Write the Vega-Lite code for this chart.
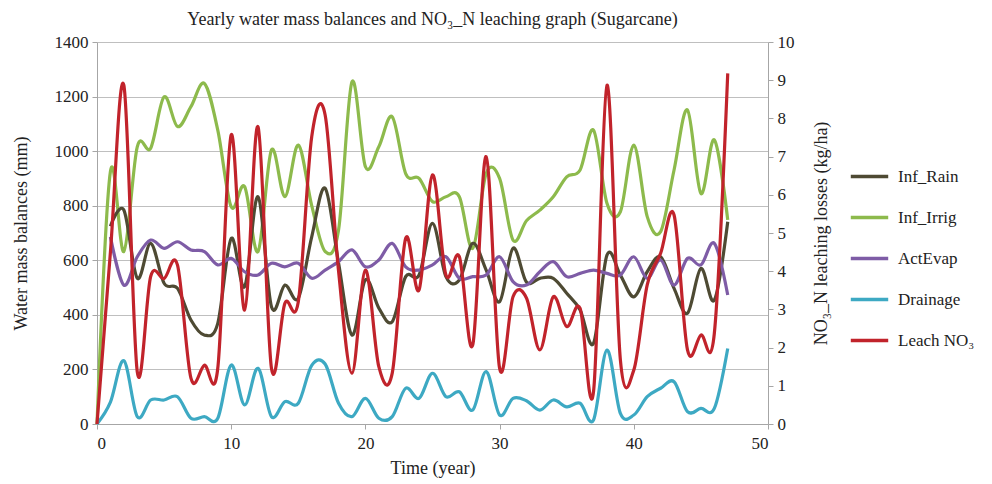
{
  "$schema": "https://vega.github.io/schema/vega-lite/v6.json",
  "width": 671,
  "height": 382,
  "autosize": {"type": "none"},
  "padding": {"left": 97, "top": 42, "right": 224, "bottom": 60},
  "background": "white",
  "config": {
    "font": "Liberation Serif",
    "view": {"stroke": null},
    "axis": {"labelFont": "Liberation Serif", "titleFont": "Liberation Serif", "labelFontSize": 17, "titleFontSize": 18, "titleFontWeight": "normal", "labelColor": "#222", "titleColor": "#222", "domainColor": "#A6A6A6", "tickColor": "#A6A6A6", "gridColor": "#BFBFBF", "tickSize": 5}
  },
  "title": {"text": "Yearly water mass balances and NO₃_N leaching graph (Sugarcane)", "font": "Liberation Serif", "fontSize": 18, "fontWeight": "normal", "color": "#222", "anchor": "middle", "offset": 4},
  "data": {"values": [
    {"year": 0, "Inf_Rain": null, "Inf_Irrig": 0, "ActEvap": null, "Drainage": 0, "Leach": 0},
    {"year": 1, "Inf_Rain": 725, "Inf_Irrig": 925, "ActEvap": 686, "Drainage": 80, "Leach": 4.5},
    {"year": 2, "Inf_Rain": 784, "Inf_Irrig": 632, "ActEvap": 509, "Drainage": 232, "Leach": 8.87},
    {"year": 3, "Inf_Rain": 534, "Inf_Irrig": 1016, "ActEvap": 613, "Drainage": 27, "Leach": 1.37},
    {"year": 4, "Inf_Rain": 662, "Inf_Irrig": 1011, "ActEvap": 674, "Drainage": 88, "Leach": 3.86},
    {"year": 5, "Inf_Rain": 516, "Inf_Irrig": 1199, "ActEvap": 644, "Drainage": 88, "Leach": 3.81},
    {"year": 6, "Inf_Rain": 497, "Inf_Irrig": 1090, "ActEvap": 668, "Drainage": 100, "Leach": 4.16},
    {"year": 7, "Inf_Rain": 381, "Inf_Irrig": 1163, "ActEvap": 638, "Drainage": 21, "Leach": 1.2},
    {"year": 8, "Inf_Rain": 326, "Inf_Irrig": 1248, "ActEvap": 632, "Drainage": 27, "Leach": 1.54},
    {"year": 9, "Inf_Rain": 369, "Inf_Irrig": 1077, "ActEvap": 583, "Drainage": 21, "Leach": 1.46},
    {"year": 10, "Inf_Rain": 680, "Inf_Irrig": 796, "ActEvap": 607, "Drainage": 216, "Leach": 7.57},
    {"year": 11, "Inf_Rain": 503, "Inf_Irrig": 870, "ActEvap": 558, "Drainage": 70, "Leach": 2.98},
    {"year": 12, "Inf_Rain": 833, "Inf_Irrig": 632, "ActEvap": 546, "Drainage": 204, "Leach": 7.78},
    {"year": 13, "Inf_Rain": 430, "Inf_Irrig": 1004, "ActEvap": 589, "Drainage": 27, "Leach": 1.46},
    {"year": 14, "Inf_Rain": 509, "Inf_Irrig": 833, "ActEvap": 576, "Drainage": 82, "Leach": 3.16},
    {"year": 15, "Inf_Rain": 461, "Inf_Irrig": 1022, "ActEvap": 589, "Drainage": 76, "Leach": 3.2},
    {"year": 16, "Inf_Rain": 686, "Inf_Irrig": 800, "ActEvap": 534, "Drainage": 215, "Leach": 7.52},
    {"year": 17, "Inf_Rain": 864, "Inf_Irrig": 632, "ActEvap": 564, "Drainage": 220, "Leach": 8.09},
    {"year": 18, "Inf_Rain": 590, "Inf_Irrig": 711, "ActEvap": 595, "Drainage": 76, "Leach": 4.0},
    {"year": 19, "Inf_Rain": 326, "Inf_Irrig": 1254, "ActEvap": 638, "Drainage": 27, "Leach": 1.33},
    {"year": 20, "Inf_Rain": 528, "Inf_Irrig": 943, "ActEvap": 576, "Drainage": 94, "Leach": 4.03},
    {"year": 21, "Inf_Rain": 425, "Inf_Irrig": 1016, "ActEvap": 601, "Drainage": 21, "Leach": 1.5},
    {"year": 22, "Inf_Rain": 375, "Inf_Irrig": 1126, "ActEvap": 662, "Drainage": 27, "Leach": 1.33},
    {"year": 23, "Inf_Rain": 540, "Inf_Irrig": 918, "ActEvap": 576, "Drainage": 131, "Leach": 4.86},
    {"year": 24, "Inf_Rain": 546, "Inf_Irrig": 900, "ActEvap": 564, "Drainage": 94, "Leach": 3.51},
    {"year": 25, "Inf_Rain": 735, "Inf_Irrig": 815, "ActEvap": 583, "Drainage": 186, "Leach": 6.52},
    {"year": 26, "Inf_Rain": 540, "Inf_Irrig": 833, "ActEvap": 613, "Drainage": 100, "Leach": 3.9},
    {"year": 27, "Inf_Rain": 528, "Inf_Irrig": 833, "ActEvap": 534, "Drainage": 118, "Leach": 4.38},
    {"year": 28, "Inf_Rain": 662, "Inf_Irrig": 644, "ActEvap": 540, "Drainage": 51, "Leach": 2.07},
    {"year": 29, "Inf_Rain": 564, "Inf_Irrig": 918, "ActEvap": 546, "Drainage": 192, "Leach": 7.0},
    {"year": 30, "Inf_Rain": 448, "Inf_Irrig": 900, "ActEvap": 613, "Drainage": 33, "Leach": 1.46},
    {"year": 31, "Inf_Rain": 644, "Inf_Irrig": 674, "ActEvap": 522, "Drainage": 94, "Leach": 3.33},
    {"year": 32, "Inf_Rain": 520, "Inf_Irrig": 745, "ActEvap": 509, "Drainage": 85, "Leach": 3.3},
    {"year": 33, "Inf_Rain": 534, "Inf_Irrig": 784, "ActEvap": 558, "Drainage": 51, "Leach": 1.94},
    {"year": 34, "Inf_Rain": 534, "Inf_Irrig": 833, "ActEvap": 595, "Drainage": 88, "Leach": 3.33},
    {"year": 35, "Inf_Rain": 479, "Inf_Irrig": 906, "ActEvap": 540, "Drainage": 63, "Leach": 2.55},
    {"year": 36, "Inf_Rain": 418, "Inf_Irrig": 931, "ActEvap": 552, "Drainage": 76, "Leach": 3.03},
    {"year": 37, "Inf_Rain": 296, "Inf_Irrig": 1077, "ActEvap": 564, "Drainage": 15, "Leach": 0.85},
    {"year": 38, "Inf_Rain": 619, "Inf_Irrig": 809, "ActEvap": 552, "Drainage": 271, "Leach": 8.87},
    {"year": 39, "Inf_Rain": 546, "Inf_Irrig": 778, "ActEvap": 546, "Drainage": 39, "Leach": 1.68},
    {"year": 40, "Inf_Rain": 466, "Inf_Irrig": 1022, "ActEvap": 613, "Drainage": 33, "Leach": 1.41},
    {"year": 41, "Inf_Rain": 558, "Inf_Irrig": 760, "ActEvap": 534, "Drainage": 100, "Leach": 3.64},
    {"year": 42, "Inf_Rain": 613, "Inf_Irrig": 705, "ActEvap": 601, "Drainage": 131, "Leach": 4.47},
    {"year": 43, "Inf_Rain": 497, "Inf_Irrig": 931, "ActEvap": 509, "Drainage": 155, "Leach": 5.47},
    {"year": 44, "Inf_Rain": 406, "Inf_Irrig": 1151, "ActEvap": 607, "Drainage": 45, "Leach": 1.94},
    {"year": 45, "Inf_Rain": 570, "Inf_Irrig": 845, "ActEvap": 583, "Drainage": 57, "Leach": 2.33},
    {"year": 46, "Inf_Rain": 454, "Inf_Irrig": 1041, "ActEvap": 662, "Drainage": 57, "Leach": 2.37},
    {"year": 47, "Inf_Rain": 741, "Inf_Irrig": 748, "ActEvap": 473, "Drainage": 277, "Leach": 9.18}
  ]},
  "layer": [
    {
      "transform": [
        {"fold": ["Inf_Rain", "Inf_Irrig", "ActEvap", "Drainage"], "as": ["series", "value"]},
        {"filter": "datum.value != null"}
      ],
      "mark": {"type": "line", "interpolate": "cardinal", "strokeWidth": 3.2},
      "encoding": {
        "x": {"field": "year", "type": "quantitative", "scale": {"domain": [0, 50], "nice": false}, "axis": {"values": [0, 10, 20, 30, 40, 50], "title": "Time (year)", "grid": false, "labelPadding": 6, "titlePadding": 8}},
        "y": {"field": "value", "type": "quantitative", "scale": {"domain": [0, 1400], "nice": false}, "axis": {"values": [0, 200, 400, 600, 800, 1000, 1200, 1400], "format": "d", "title": "Water mass balances (mm)", "grid": true, "labelPadding": 4, "titlePadding": 24}},
        "color": {"field": "series", "type": "nominal",
          "scale": {"domain": ["Inf_Rain", "Inf_Irrig", "ActEvap", "Drainage", "Leach NO₃"], "range": ["#4E4A33", "#8DBA4C", "#7E5CA6", "#3DA9C3", "#C1232B"]},
          "legend": {"title": null, "orient": "none", "legendX": 752, "legendY": 114, "symbolType": "stroke", "symbolSize": 1400, "symbolStrokeWidth": 3.5, "labelFontSize": 17, "labelFont": "Liberation Serif", "labelColor": "#222", "rowPadding": 12, "labelOffset": 8}},
        "detail": {"field": "series"}
      }
    },
    {
      "mark": {"type": "line", "interpolate": "cardinal", "strokeWidth": 3.2},
      "encoding": {
        "x": {"field": "year", "type": "quantitative"},
        "y": {"field": "Leach", "type": "quantitative", "scale": {"domain": [0, 10], "nice": false}, "axis": {"orient": "right", "values": [0, 1, 2, 3, 4, 5, 6, 7, 8, 9, 10], "title": "NO₃_N leaching losses (kg/ha)", "titleAngle": 270, "titleBaseline": "bottom", "grid": false, "labelPadding": 4, "titlePadding": 36}},
        "color": {"datum": "Leach NO₃"}
      }
    }
  ],
  "resolve": {"scale": {"y": "independent"}}
}
